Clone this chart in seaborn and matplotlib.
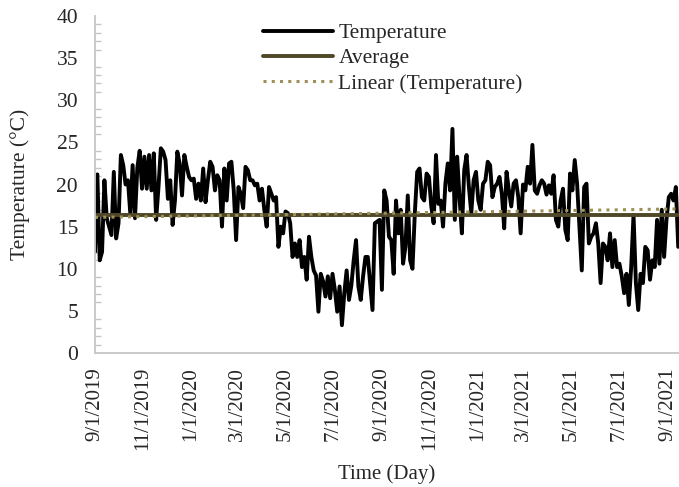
import numpy as np
import pandas as pd
import matplotlib
matplotlib.use("Agg")
import matplotlib.pyplot as plt
import matplotlib.dates as mdates
from matplotlib.ticker import MultipleLocator, FuncFormatter
import seaborn as sns

# Daily air temperature (°C), one reading every third day from 1 Sep 2019
temps_2019_autumn_winter = [
    12.0, 21.2, 11.0, 12.0, 20.5, 16.0, 15.0, 14.0, 21.5, 13.6,
    15.4, 23.5, 22.3, 20.0, 20.5, 16.6, 22.3, 16.0, 22.0, 24.0,
    19.5, 23.3, 19.5, 23.5, 19.3, 23.7, 15.8, 19.7, 24.3, 23.9,
    22.9, 18.3, 20.5, 15.2, 18.1, 23.9, 22.5, 18.7, 23.5, 22.1,
    20.9, 20.5, 20.7, 18.3, 20.1, 18.1, 21.9, 17.9, 20.5, 22.7,
    22.1, 19.3, 21.1, 20.5, 15.0, 21.9, 18.1, 22.5, 22.7, 19.3, 13.4,
]
temps_2020_spring_summer = [
    19.7, 18.9, 17.2, 22.1, 21.7, 20.5, 20.5, 19.9, 20.1, 18.1,
    19.5, 17.0, 15.0, 19.7, 18.9, 18.1, 18.5, 12.6, 15.0, 14.2,
    16.8, 16.6, 15.4, 11.4, 13.0, 11.4, 13.4, 10.2, 11.4, 8.7,
    13.8, 11.4, 9.8, 9.2, 4.9, 9.4, 8.5, 6.7, 9.1, 6.5,
    9.4, 7.5, 4.9, 7.9, 3.3, 7.1, 9.8, 6.3, 8.0, 11.0,
    13.4, 7.9, 6.3, 9.1, 11.4, 11.4, 8.3, 5.1, 15.4, 15.6,
]
temps_2020_autumn_winter = [
    15.8, 7.5, 19.3, 18.1, 13.8, 13.4, 9.4, 18.1, 14.2, 17.0,
    10.6, 12.6, 18.7, 11.0, 10.0, 16.6, 21.5, 21.9, 18.5, 18.1,
    21.3, 20.9, 17.4, 15.4, 23.5, 17.7, 18.1, 15.0, 20.1, 22.5,
    19.3, 26.6, 15.8, 23.3, 18.5, 14.2, 21.7, 23.5, 19.7, 16.6,
    20.5, 21.5, 18.1, 17.0, 20.1, 20.5, 22.7, 22.3, 18.5, 19.7,
    20.1, 20.9, 18.9, 14.8, 21.5, 19.3, 17.4, 20.1, 20.5, 18.5,
]
temps_2021_spring_summer = [
    14.2, 20.0, 19.3, 22.1, 20.1, 24.7, 19.3, 18.9, 19.9, 20.5,
    20.1, 18.8, 19.9, 18.9, 21.1, 15.8, 15.0, 18.1, 19.5, 14.6,
    13.4, 21.3, 19.3, 22.9, 20.1, 15.0, 9.8, 19.7, 20.1, 13.0,
    13.8, 14.2, 15.4, 13.0, 8.3, 13.0, 12.6, 11.0, 14.2, 10.2,
    13.4, 10.2, 10.6, 9.1, 7.1, 9.4, 5.7, 10.2, 16.4, 8.3,
    5.1, 9.4, 8.3, 12.6, 12.2, 8.7, 11.0, 10.2, 15.8, 10.6,
    17.0, 11.4, 15.8, 18.5, 18.9, 18.1, 19.7, 12.6,
]
temperature = (temps_2019_autumn_winter + temps_2020_spring_summer
               + temps_2020_autumn_winter + temps_2021_spring_summer)

start_date = "2019-09-01"
sample_step = "3D"
axis_end_date = "2021-09-15"

# Mean of the record and the end values of its linear trend
average_temperature = 16.4
trend_first, trend_last = 16.1, 17.1

x_tick_dates = ["2019-09-01", "2019-11-01", "2020-01-01", "2020-03-01",
                "2020-05-01", "2020-07-01", "2020-09-01", "2020-11-01",
                "2021-01-01", "2021-03-01", "2021-05-01", "2021-07-01",
                "2021-09-01"]
y_ticks = [0, 5, 10, 15, 20, 25, 30, 35, 40]

series_labels = ["Temperature", "Average", "Linear (Temperature)"]
series_colors = ["#000000", "#4e4829", "#a09058"]

dates = pd.date_range(start_date, periods=len(temperature), freq=sample_step)
df = pd.DataFrame({"date": dates, "temp": temperature})
df_avg = pd.DataFrame({"date": dates, "avg": [average_temperature] * len(dates)})
df_trend = pd.DataFrame({"date": [dates[0], dates[-1]],
                         "trend": [trend_first, trend_last]})

sns.set_style("white")
plt.rcParams["font.family"] = ["Liberation Serif", "DejaVu Serif"]
plt.rcParams["font.size"] = 15.5

fig = plt.figure(figsize=(6.79, 4.87), dpi=100)
ax = fig.add_axes([95 / 679, 1 - 353 / 487, (679 - 95) / 679, (353 - 16) / 487])

sns.lineplot(data=df, x="date", y="temp", ax=ax, color=series_colors[0],
             lw=2.8, label=series_labels[0])
sns.lineplot(data=df_avg, x="date", y="avg", ax=ax, color=series_colors[1],
             lw=2.8, label=series_labels[1])
sns.lineplot(data=df_trend, x="date", y="trend", ax=ax, color=series_colors[2],
             lw=2.2, linestyle=(0, (1, 1.7)), label=series_labels[2])

ax.set_xlim(pd.Timestamp(start_date), pd.Timestamp(axis_end_date))
ax.set_ylim(y_ticks[0], y_ticks[-1])
ax.set_yticks(y_ticks)
ax.yaxis.set_minor_locator(MultipleLocator(1))
ax.set_xticks(pd.to_datetime(x_tick_dates))
ax.xaxis.set_major_formatter(FuncFormatter(
    lambda v, pos: "{d.month}/{d.day}/{d.year}".format(d=mdates.num2date(v))))

for side in ["top", "right"]:
    ax.spines[side].set_visible(False)
for side in ["left", "bottom"]:
    ax.spines[side].set_color("#c6c6c6")
    ax.spines[side].set_linewidth(1.3)

ax.tick_params(axis="y", which="major", direction="inout", length=8.6,
               width=1.2, color="#c6c6c6", pad=7.9, labelsize=15.5)
ax.tick_params(axis="y", which="minor", direction="in", length=4.5,
               width=1.0, color="#c6c6c6", left=True)
ax.tick_params(axis="x", which="major", direction="out", length=4,
               width=1.2, color="#c6c6c6", pad=6, labelsize=15,
               labelrotation=90)

ax.set_xlabel("Time (Day)", fontsize=15, labelpad=10)
ax.set_ylabel("Temperature (°C)", fontsize=15.5, labelpad=19)

ax.legend(loc="upper left", bbox_to_anchor=(263 / 679, 1 - 23 / 487),
          bbox_transform=fig.transFigure, frameon=False, fontsize=15.5,
          handlelength=3.25, handletextpad=0.25, labelspacing=0.24,
          borderpad=0, borderaxespad=0)

fig.savefig("out.png", dpi=100)
